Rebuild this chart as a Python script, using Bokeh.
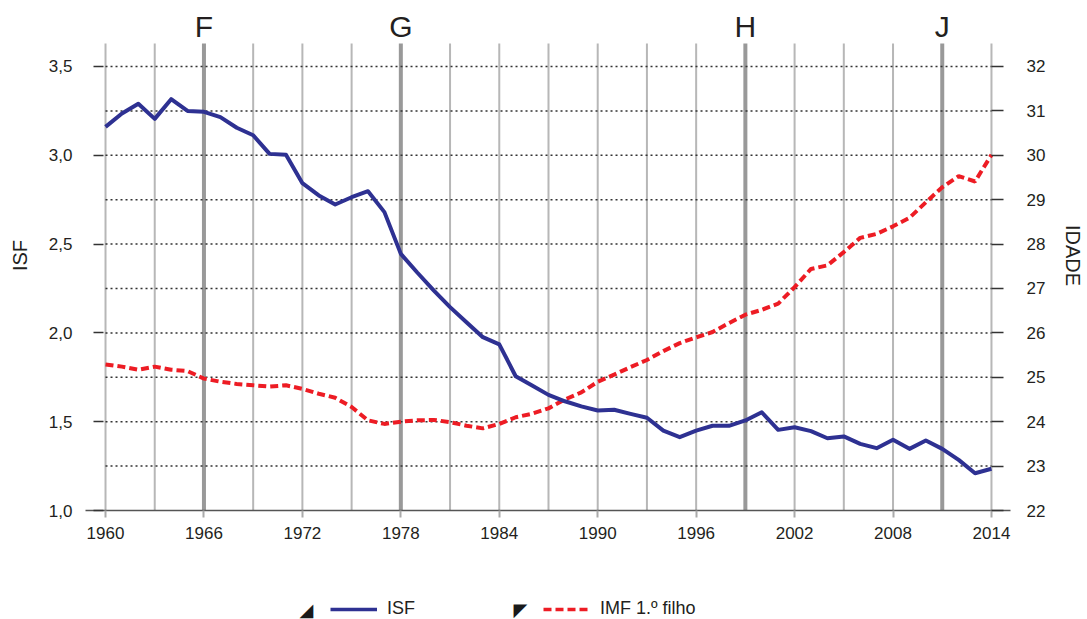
from bokeh.plotting import figure
from bokeh.layouts import column
from bokeh.models import (Range1d, LinearAxis, FixedTicker, Legend, LegendItem,
                          CustomJSTickFormatter)
from bokeh.core.properties import value
from bokeh.embed import file_html
from bokeh.resources import INLINE

# ---------------- data ----------------
years = list(range(1960, 2015))
isf = [3.16, 3.235, 3.29, 3.205, 3.316, 3.25, 3.245, 3.215, 3.155, 3.113,
       3.008, 3.003, 2.843, 2.774, 2.723, 2.764, 2.798, 2.68, 2.445, 2.34,
       2.24, 2.145, 2.06, 1.976, 1.935, 1.756, 1.704, 1.651, 1.615, 1.586,
       1.563, 1.567, 1.544, 1.522, 1.45, 1.413, 1.45, 1.477, 1.477, 1.507,
       1.553, 1.454, 1.469, 1.447, 1.407, 1.417, 1.375, 1.351, 1.398, 1.347,
       1.394, 1.347, 1.285, 1.21, 1.235]
imf_first = [25.29, 25.24, 25.17, 25.24, 25.17, 25.14, 24.97, 24.90, 24.85, 24.82,
             24.79, 24.82, 24.74, 24.63, 24.54, 24.33, 24.03, 23.95, 24.00, 24.03,
             24.04, 23.99, 23.91, 23.85, 23.95, 24.10, 24.18, 24.30, 24.50, 24.66,
             24.90, 25.06, 25.23, 25.39, 25.59, 25.77, 25.90, 26.02, 26.22, 26.41,
             26.52, 26.66, 27.03, 27.44, 27.52, 27.82, 28.14, 28.23, 28.40, 28.59,
             28.94, 29.28, 29.53, 29.41, 30.01]
x_tick_years = list(range(1960, 2015, 6))
grid_years = list(range(1960, 2015, 3))
event_years = [1966, 1978, 1999, 2011]
event_letters = ["F", "G", "H", "J"]
isf_ticks = [1.0, 1.5, 2.0, 2.5, 3.0, 3.5]
idade_ticks = list(range(22, 33))
series_labels = ["ISF", "IMF 1.º filho"]

FONT = "Liberation Sans"
TXT = "#231f20"
BLUE = "#2e3192"
RED = "#ed1c24"
GRID_TOP = 3.63      # top end of the vertical rules (ISF scale)
LETTER_Y = 3.725     # level of the F/G/H/J markers (ISF scale)
NAN = float("nan")

p = figure(width=1087, height=580, output_backend="svg", toolbar_location=None,
           title=None,
           x_range=Range1d(1958.78, 2015.16), y_range=Range1d(1.0, 3.8716),
           min_border_left=85, min_border_right=77, min_border_top=0,
           min_border_bottom=70)
p.extra_y_ranges = {"idade": Range1d(22.0, 33.486)}
p.outline_line_color = None
p.grid.visible = False
p.background_fill_color = "white"
p.border_fill_color = "white"

# vertical rules every 3 years, heavier ones at the marked years
thin_years = [y for y in grid_years if y not in event_years]
p.segment(x0=thin_years, x1=thin_years, y0=isf_ticks[0], y1=GRID_TOP,
          line_color="#b7b7b7", line_width=2)
p.segment(x0=event_years, x1=event_years, y0=isf_ticks[0], y1=GRID_TOP,
          line_color="#999999", line_width=4)

# dotted horizontal lines
p.segment(x0=years[0], x1=years[-1], y0=idade_ticks[1:], y1=idade_ticks[1:],
          y_range_name="idade", line_color="#333333", line_width=1.5,
          line_dash="2 3")

# data lines
p.line(years, imf_first, y_range_name="idade", line_color=RED,
       line_width=4, line_dash="8 4")
p.line(years, isf, line_color=BLUE, line_width=4, line_join="round")

# event letters
p.text(x=event_years, y=LETTER_Y, text=event_letters, text_align="center",
       text_baseline="middle", text_font=value(FONT), text_font_size="30px",
       text_color=TXT)

# bottom axis
xa = p.xaxis[0]
xa.ticker = FixedTicker(ticks=x_tick_years)
xa.axis_line_color = "#555555"
xa.axis_line_width = 1.5
xa.major_tick_in = 0
xa.major_tick_out = 7
xa.major_tick_line_color = "#aaaaaa"
xa.major_tick_line_width = 2
xa.minor_tick_line_color = None
xa.major_label_standoff = 9
xa.major_label_text_font = FONT
xa.major_label_text_font_size = "17px"
xa.major_label_text_color = TXT

# left axis
ya = p.yaxis[0]
ya.ticker = FixedTicker(ticks=isf_ticks)
ya.formatter = CustomJSTickFormatter(code="return tick.toFixed(1).replace('.', ',')")
ya.axis_line_color = None
ya.major_tick_in = 18
ya.major_tick_out = -8
ya.major_tick_line_color = "#333333"
ya.major_tick_line_width = 1.5
ya.minor_tick_line_color = None
ya.major_label_standoff = 13
ya.major_label_text_font = FONT
ya.major_label_text_font_size = "17px"
ya.major_label_text_color = TXT
ya.axis_label = "ISF"
ya.axis_label_text_font = FONT
ya.axis_label_text_font_size = "20px"
ya.axis_label_text_font_style = "normal"
ya.axis_label_text_color = TXT
ya.axis_label_standoff = 15

# right axis
ra = LinearAxis(y_range_name="idade", ticker=FixedTicker(ticks=idade_ticks))
ra.axis_line_color = None
ra.major_tick_in = 19
ra.major_tick_out = -7
ra.major_tick_line_color = "#333333"
ra.major_tick_line_width = 1.5
ra.minor_tick_line_color = None
ra.major_label_standoff = 16
ra.major_label_text_font = FONT
ra.major_label_text_font_size = "17px"
ra.major_label_text_color = TXT
ra.axis_label = "IDADE"
ra.axis_label_text_font = FONT
ra.axis_label_text_font_size = "20px"
ra.axis_label_text_font_style = "normal"
ra.axis_label_text_color = TXT
ra.axis_label_standoff = 14
p.add_layout(ra, "right")

# ---------------- legend strip (screen-pixel coordinates) ----------------
q = figure(width=1087, height=39, output_backend="svg", toolbar_location=None,
           title=None, x_range=Range1d(85, 1010), y_range=Range1d(0, 39),
           min_border_left=85, min_border_right=77, min_border_top=0,
           min_border_bottom=0, x_axis_type=None, y_axis_type=None)
q.outline_line_color = None
q.grid.visible = False
q.border_fill_color = "white"
q.background_fill_color = "white"
leg_isf = q.line(x=[NAN], y=[NAN], line_color=BLUE, line_width=3.5)
leg_imf = q.line(x=[NAN], y=[NAN], line_color=RED, line_width=3.5,
                 line_dash="8 4")
q.text(x=[306, 520], y=[10, 10], text=["◢", "◤"], text_align="center",
       text_baseline="middle", text_font=value("DejaVu Sans"),
       text_font_size="18px", text_color="#1a1a1a")
legend = Legend(items=[LegendItem(label=series_labels[0], renderers=[leg_isf]),
                       LegendItem(label=series_labels[1], renderers=[leg_imf])],
                orientation="horizontal", location=(245, 0),
                glyph_width=47, glyph_height=18, label_height=18,
                label_standoff=10, spacing=128,
                padding=0, margin=0, border_line_color=None,
                background_fill_alpha=0, label_text_font=FONT,
                label_text_font_size="18px", label_text_color=TXT)
q.add_layout(legend)

layout = column(p, q, spacing=0)
open("out.html", "w").write(file_html(layout, INLINE))
